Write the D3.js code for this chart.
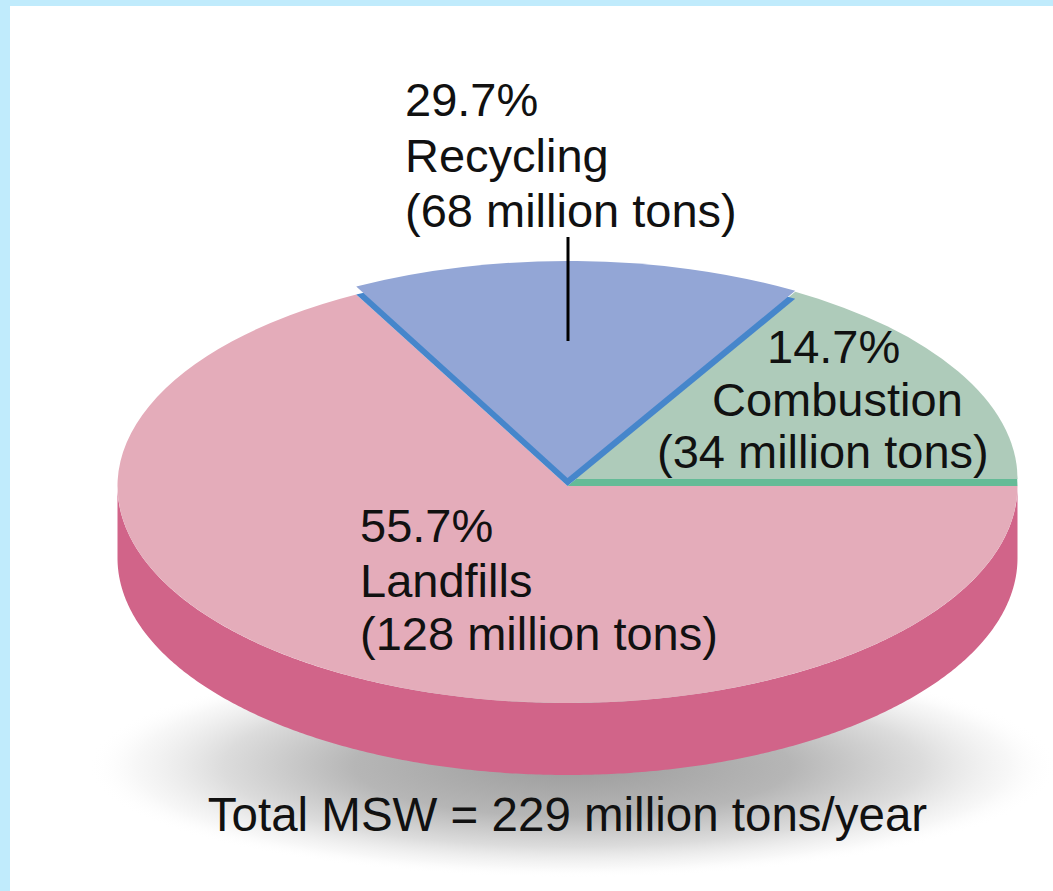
<!DOCTYPE html>
<html>
<head>
<meta charset="utf-8">
<script src="https://cdn.jsdelivr.net/npm/d3@7"></script>
<style>
  html, body { margin: 0; padding: 0; background: #ffffff; }
  svg { display: block; }
  text { font-family: "Liberation Sans", Arial, Helvetica, sans-serif; fill: #111; }
</style>
</head>
<body>
<div id="chart"></div>
<script>
// ---------------- DATA ----------------
const categories = ["Landfills", "Recycling", "Combustion"];
const percents   = [55.7, 29.7, 14.7];          // share of total MSW (%)
const tonnage    = [128, 68, 34];               // million tons
const totalTons  = 229;                         // million tons / year
const pieOrder   = ["Combustion", "Recycling", "Landfills"]; // counter-clockwise from 3 o'clock

// The source artwork does not draw its wedges to scale; this maps each
// cumulative share boundary to the angle (deg, CCW from east) where the artist drew it.
const drawnBoundaryAngles = [0, 59.6, 118, 360];

// ---------------- STYLE / LAYOUT ----------------
const W = 1053, H = 891;
const cx = 567.5, cy = 486, rx = 450, ry = 217, depth = 72;
const styles = {
  Landfills:  { top: "#e4acba", side: "#d16489", lift: 0 },
  Recycling:  { top: "#93a6d6", side: "#4686cb", lift: 8 },
  Combustion: { top: "#aecbba", side: "#65bb97", lift: 7 }
};
const labelPos = {
  Recycling:  { xs: [405, 405, 405], ys: [116, 172, 227] },
  Combustion: { xs: [767, 712, 657], ys: [363, 416, 468] },
  Landfills:  { xs: [360, 360, 360], ys: [542, 597, 650] }
};
const fontSize = 47;

const svg = d3.select("#chart").append("svg")
  .attr("width", W).attr("height", H);

// frame
svg.append("rect").attr("x", 0).attr("y", 0).attr("width", W).attr("height", H).attr("fill", "#c0ebfc");
svg.append("rect").attr("x", 10).attr("y", 6).attr("width", W - 10).attr("height", H - 6).attr("fill", "#ffffff");

// shadow gradient
const defs = svg.append("defs");
const grad = defs.append("radialGradient").attr("id", "shadowGrad")
  .attr("cx", "50%").attr("cy", "50%").attr("r", "50%");
[[0, "#9c9c9c", 1], [0.45, "#b6b6b6", 1], [0.72, "#d8d8d8", 0.9], [0.9, "#f2f2f2", 0.6], [1, "#ffffff", 0]]
  .forEach(([o, c, op]) => grad.append("stop").attr("offset", o).attr("stop-color", c).attr("stop-opacity", op));

svg.append("ellipse")
  .attr("cx", cx + 5).attr("cy", cy + depth + 208)
  .attr("rx", 485).attr("ry", 112)
  .attr("fill", "url(#shadowGrad)");

// ---------------- PIE LAYOUT ----------------
const byCat = Object.fromEntries(categories.map((c, i) => [c, { name: c, pct: percents[i], tons: tonnage[i] }]));
const pieData = pieOrder.map(c => byCat[c]);

const pie = d3.pie().sort(null).value(d => d.pct).startAngle(0).endAngle(d3.sum(percents));
const arcsRaw = pie(pieData);   // start/end in cumulative-share units

const cumDomain = [0].concat(arcsRaw.map(a => a.endAngle));
const angleScale = d3.scaleLinear().domain(cumDomain).range(drawnBoundaryAngles);

const slices = arcsRaw.map(a => ({
  ...a.data,
  t0: angleScale(a.startAngle),
  t1: angleScale(a.endAngle)
}));

const rad = Math.PI / 180;
const arcGen = d3.arc().innerRadius(0).outerRadius(rx);
const yScale = ry / rx;

// cylinder side (only front half visible: 180..360 deg)
const sideG = svg.append("g");
slices.forEach(s => {
  const lo = Math.max(s.t0, 180), hi = Math.min(s.t1, 360);
  if (lo >= hi) return;
  const ts = d3.range(lo, hi, 0.5).concat([hi]);
  const topPts = ts.map(t => [cx + rx * Math.cos(t * rad), cy - ry * Math.sin(t * rad)]);
  const botPts = ts.slice().reverse().map(t => [cx + rx * Math.cos(t * rad), cy + depth - ry * Math.sin(t * rad)]);
  sideG.append("path")
    .attr("d", d3.line()(topPts.concat(botPts)) + "Z")
    .attr("fill", styles[s.name].side);
});

// top faces: base slice first, then lifted slices (green, then blue)
const drawOrder = slices.slice().sort((a, b) => styles[a.name].lift - styles[b.name].lift);
const topG = svg.append("g");
drawOrder.forEach(s => {
  const st = styles[s.name];
  const d = arcGen({ startAngle: (90 - s.t0) * rad, endAngle: (90 - s.t1) * rad });
  if (st.lift > 0) {
    topG.append("path").attr("d", d)
      .attr("transform", `translate(${cx},${cy}) scale(1,${yScale})`)
      .attr("fill", st.side);
  }
  topG.append("path").attr("d", d)
    .attr("transform", `translate(${cx},${cy - st.lift}) scale(1,${yScale})`)
    .attr("fill", st.top);
});

// leader line for Recycling label
svg.append("line")
  .attr("x1", 568).attr("x2", 568)
  .attr("y1", 237).attr("y2", 341)
  .attr("stroke", "#000").attr("stroke-width", 3);

// labels
const labelG = svg.append("g");
slices.forEach(s => {
  const p = labelPos[s.name];
  const lines = [`${s.pct}%`, s.name, `(${s.tons} million tons)`];
  lines.forEach((txt, i) => {
    labelG.append("text")
      .attr("x", p.xs[i]).attr("y", p.ys[i])
      .attr("font-size", fontSize)
      .text(txt);
  });
});

// total
svg.append("text")
  .attr("x", cx).attr("y", 831)
  .attr("text-anchor", "middle")
  .attr("font-size", 47.5)
  .text(`Total MSW = ${totalTons} million tons/year`);
</script>
</body>
</html>
